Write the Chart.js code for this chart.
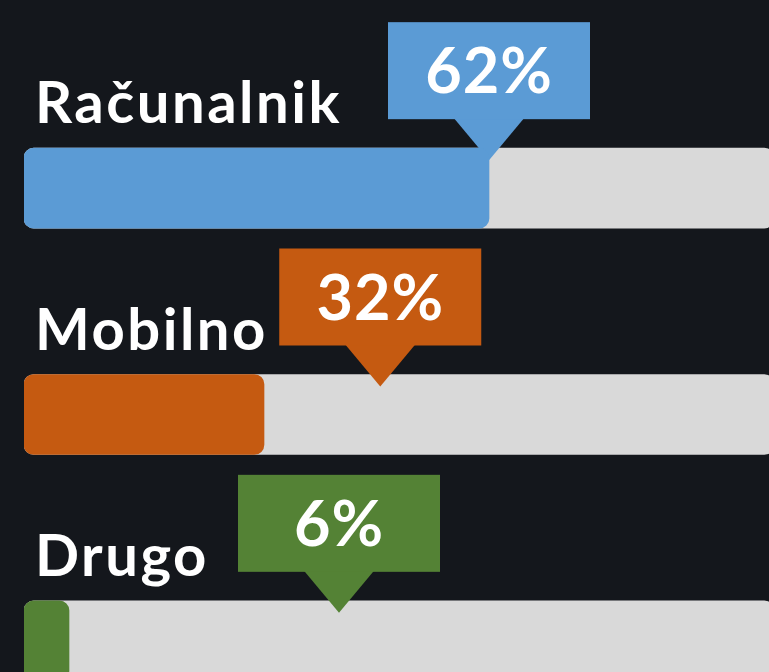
<!DOCTYPE html>
<html>
<head>
<meta charset="utf-8">
<script src="https://cdn.jsdelivr.net/npm/chart.js@4"></script>
<style>
  html,body{margin:0;padding:0;background:#14171c;overflow:hidden;}
  #wrap{position:absolute;left:0;top:0;}
</style>
</head>
<body>
<div id="wrap"><canvas id="bars" width="790" height="760"></canvas></div>
<script>
// data
const categories = ['Računalnik', 'Mobilno', 'Drugo'];
const shares = [62, 32, 6];
const trackValues = [100, 100, 100];
// where each callout sits, in % along the bar
const calloutAt = [62, 47.5, 42];

const fillColors = ['#5b9bd5', '#c55a11', '#548235'];
const trackColor = '#d9d9d9';
const fontFamily = 'Lato, "Open Sans", sans-serif';

// callouts: pointer drawn between track and fill, boxes + texts on top
const callouts = {
  id: 'callouts',
  afterDatasetDraw(chart, args){
    if(args.index !== 0) return;
    const ctx = chart.ctx;
    const xs = chart.scales.x;
    chart.getDatasetMeta(1).data.forEach((el, i) => {
      const barTop = el.y - el.height / 2;
      const cx = xs.getPixelForValue(calloutAt[i]);
      const boxBottom = barTop - 29;
      ctx.save();
      ctx.fillStyle = fillColors[i];
      ctx.beginPath();
      ctx.moveTo(cx - 35, boxBottom - 1);
      ctx.lineTo(cx + 35, boxBottom - 1);
      ctx.lineTo(cx, boxBottom + 41);
      ctx.closePath();
      ctx.fill();
      ctx.restore();
    });
  },
  afterDatasetsDraw(chart){
    const ctx = chart.ctx;
    const xs = chart.scales.x;
    chart.getDatasetMeta(1).data.forEach((el, i) => {
      const barTop = el.y - el.height / 2;
      const cx = xs.getPixelForValue(calloutAt[i]);
      const boxBottom = barTop - 29;
      const boxTop = boxBottom - 97;
      ctx.save();
      ctx.fillStyle = fillColors[i];
      ctx.fillRect(cx - 101, boxTop, 202, 97);
      ctx.fillStyle = '#ffffff';
      ctx.textBaseline = 'alphabetic';
      ctx.textAlign = 'center';
      ctx.font = 'bold 63px ' + fontFamily;
      ctx.letterSpacing = '1px';
      ctx.fillText(shares[i] + '%', cx, boxTop + 71);
      ctx.textAlign = 'left';
      ctx.font = 'bold 58px ' + fontFamily;
      ctx.letterSpacing = '2.5px';
      ctx.fillText(categories[i], 35, barTop - 25);
      ctx.restore();
    });
  }
};

new Chart(document.getElementById('bars'), {
  type: 'bar',
  data: {
    labels: categories,
    datasets: [
      {data: trackValues, backgroundColor: trackColor, order: 2},
      {data: shares, backgroundColor: fillColors, order: 1}
    ]
  },
  options: {
    indexAxis: 'y',
    responsive: false,
    animation: false,
    events: [],
    layout: {padding: {left: 24, right: 16, top: 75, bottom: 6}},
    datasets: {
      bar: {grouped: false, barThickness: 80, borderRadius: 10, borderSkipped: false}
    },
    scales: {
      x: {display: false, min: 0, max: 100},
      y: {display: false}
    },
    plugins: {legend: {display: false}, tooltip: {enabled: false}}
  },
  plugins: [callouts]
});
</script>
</body>
</html>
